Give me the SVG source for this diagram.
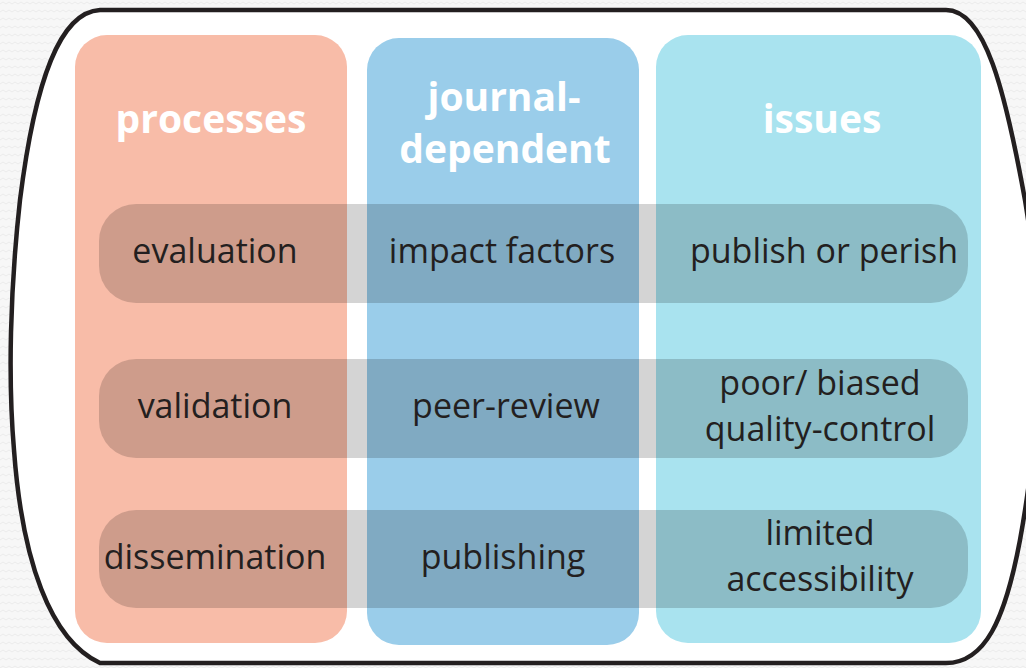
<svg xmlns="http://www.w3.org/2000/svg" width="1026" height="668" viewBox="0 0 1026 668">
<defs>
<pattern id="bgp" width="12" height="8" patternUnits="userSpaceOnUse">
<rect width="12" height="8" fill="#f7f7f7"/>
<path d="M0,4 L3,2 L6,4 L9,2 L12,4" fill="none" stroke="#ececec" stroke-width="1"/>
</pattern>
</defs>
<style>
.title{font-family:"Open Sans","Noto Sans","Liberation Sans",sans-serif;font-weight:700;font-size:39px;fill:#ffffff;text-anchor:middle}
.lbl{font-family:"Open Sans","Noto Sans","Liberation Sans",sans-serif;font-weight:400;font-size:34px;fill:#231f20;text-anchor:middle}
.band{fill:#000000;fill-opacity:0.17}
</style>
<rect width="1026" height="668" fill="url(#bgp)"/>
<g id="frame">
<path d="M100,10 L946,10 C985,10 1005,90 1025,200 C1045,320 1040,430 1020,540 C1005,620 985,663 946,663 L100,663 C50,640 22,560 14,450 C8,380 10,290 20,200 C35,80 60,12 100,10 Z" fill="#ffffff" stroke="#231f20" stroke-width="4.5"/>
</g>
<g id="col-processes">
<rect x="75" y="35" width="272" height="608" rx="32" fill="#f8bca8"/>
<text class="title" x="211" y="133">processes</text>
</g>
<g id="col-journal">
<rect x="367" y="38" width="272" height="607" rx="32" fill="#9acdea"/>
<text class="title" x="504" y="111">journal-</text>
<text class="title" x="505" y="163">dependent</text>
</g>
<g id="col-issues">
<rect x="656" y="35" width="325" height="608" rx="32" fill="#a9e3ef"/>
<text class="title" x="822" y="133">issues</text>
</g>
<g id="row-evaluation">
<rect class="band" x="99" y="204" width="869" height="99" rx="37"/>
<text class="lbl" x="215" y="263">evaluation</text>
<text class="lbl" x="502" y="263">impact factors</text>
<text class="lbl" x="824" y="263">publish or perish</text>
</g>
<g id="row-validation">
<rect class="band" x="99" y="359" width="869" height="99" rx="37"/>
<text class="lbl" x="215" y="418">validation</text>
<text class="lbl" x="506" y="418">peer-review</text>
<text class="lbl" x="820" y="395">poor/ biased</text>
<text class="lbl" x="820" y="441">quality-control</text>
</g>
<g id="row-dissemination">
<rect class="band" x="99" y="510" width="869" height="98" rx="37"/>
<text class="lbl" x="215" y="569">dissemination</text>
<text class="lbl" x="503" y="569">publishing</text>
<text class="lbl" x="820" y="545">limited</text>
<text class="lbl" x="820" y="591">accessibility</text>
</g>
<g id="connectors"/>
</svg>
